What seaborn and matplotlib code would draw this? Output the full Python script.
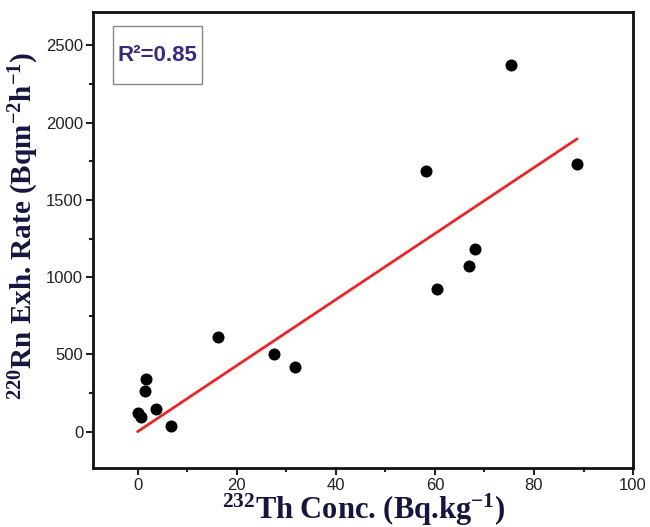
import matplotlib.pyplot as plt
import pandas as pd
import seaborn as sns
from matplotlib.patches import Rectangle
from matplotlib.ticker import MultipleLocator

# 232Th concentration vs 220Rn exhalation rate
th_conc = [0.0, 0.6, 1.5, 1.7, 3.8, 6.8, 16.3, 27.6, 31.8,
           58.2, 60.5, 66.8, 68.1, 75.4, 88.7]
rn_rate = [122, 92, 261, 338, 144, 39, 610, 501, 420,
           1688, 926, 1074, 1183, 2374, 1734]

# linear fit drawn on the figure
fit_x = [0.0, 88.7]
fit_y = [0.0, 1895.0]

r2_label = "R\u00b2=0.85"

points = pd.DataFrame({"th": th_conc, "rn": rn_rate})
fit = pd.DataFrame({"th": fit_x, "rn": fit_y})

sns.set_style("white")
plt.rcParams["font.family"] = ["Liberation Sans", "DejaVu Sans"]
plt.rcParams["mathtext.fontset"] = "custom"
plt.rcParams["mathtext.rm"] = "Liberation Serif:bold"
plt.rcParams["mathtext.it"] = "Liberation Serif:bold"
plt.rcParams["mathtext.bf"] = "Liberation Serif:bold"
plt.rcParams["mathtext.default"] = "rm"

fig, ax = plt.subplots(figsize=(6.5, 5.27), dpi=100)

sns.lineplot(data=fit, x="th", y="rn", color="#e8262b", linewidth=2, ax=ax)
sns.scatterplot(data=points, x="th", y="rn", color="black", s=75,
                edgecolor="black", linewidth=0, ax=ax, zorder=3)

ax.set_xlim(-9, 100)
ax.set_ylim(-235, 2715)
ax.xaxis.set_major_locator(MultipleLocator(20))
ax.xaxis.set_minor_locator(MultipleLocator(10))
ax.yaxis.set_major_locator(MultipleLocator(500))
ax.yaxis.set_minor_locator(MultipleLocator(250))
ax.tick_params(which="both", direction="out", bottom=True, left=True,
               top=False, right=False, width=1.5, colors="#222222")
ax.tick_params(which="major", length=5, labelsize=12, pad=2)
ax.tick_params(which="minor", length=3)

for s in ax.spines.values():
    s.set_linewidth(2)
    s.set_color("#111111")

label_font = dict(family=["Liberation Serif", "DejaVu Serif"], weight="bold",
                  color="#15153f")
ax.set_xlabel("$^{232}$Th Conc. (Bq.kg$^{-1}$)", labelpad=-1, size=22, **label_font)
ax.set_ylabel("$^{220}$Rn Exh. Rate (Bqm$^{-2}$h$^{-1}$)", labelpad=4, size=21,
              **label_font)
ax.yaxis.label.set_y(0.53)

# R-squared box
ax.add_patch(Rectangle((0.037, 0.842), 0.165, 0.127, transform=ax.transAxes,
                       facecolor="white", edgecolor="#888888", linewidth=1,
                       zorder=4))
ax.text(0.1195, 0.905, r2_label, transform=ax.transAxes, fontsize=16,
        fontweight="bold", color="#3b2a78", va="center", ha="center", zorder=5)

plt.subplots_adjust(left=0.143, right=0.974, top=0.977, bottom=0.112)
plt.savefig("out.png", dpi=100)
